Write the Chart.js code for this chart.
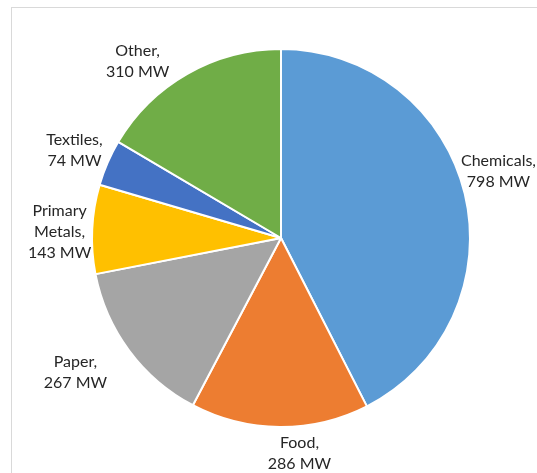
<!DOCTYPE html>
<html>
<head>
<meta charset="utf-8">
<script src="https://cdn.jsdelivr.net/npm/chart.js@4"></script>
<style>
  html, body { margin: 0; padding: 0; background: #fff; }
  #wrap { position: relative; width: 537px; height: 473px; }
  #frame { position: absolute; left: 11px; top: 7px; width: 600px; height: 600px; border: 1px solid #d9d9d9; box-sizing: border-box; }
</style>
</head>
<body>
<div id="wrap">
  <div id="frame"></div>
  <canvas id="chart" width="537" height="473" style="position:absolute;left:0;top:0"></canvas>
</div>
<script>
const categories = ['Chemicals', 'Food', 'Paper', 'Primary Metals', 'Textiles', 'Other'];
const megawatts = [798, 286, 267, 143, 74, 310];
const colors = ['#5b9bd5', '#ed7d31', '#a5a5a5', '#ffc000', '#4472c4', '#70ad47'];

const ctx = document.getElementById('chart').getContext('2d');

// Excel style "Name, value MW" labels outside the slices
const outsideLabels = {
  id: 'outsideLabels',
  afterDraw(chart, args, opts) {
    const c = chart.ctx;
    const meta = chart.getDatasetMeta(0);
    const lineH = 21;
    c.save();
    c.font = '16px Lato';
    c.fillStyle = '#262626';
    c.textAlign = 'center';
    c.textBaseline = 'middle';
    meta.data.forEach((arc, i) => {
      const name = categories[i];
      let lines;
      if (name === 'Primary Metals') lines = ['Primary', 'Metals,', megawatts[i] + ' MW'];
      else lines = [name + ',', megawatts[i] + ' MW'];
      const w = Math.max(...lines.map(l => c.measureText(l).width));
      const h = lines.length * lineH;
      const mid = (arc.startAngle + arc.endAngle) / 2;
      const dx = Math.cos(mid), dy = Math.sin(mid);
      const r = arc.outerRadius + 8;
      let cx = arc.x + dx * r + dx * w / 2;
      let cy = arc.y + dy * r + dy * h / 2;
      cx = Math.min(cx, chart.width - w / 2 - 1);
      // best-fit nudges like Excel does
      const nudge = opts.nudge[name] || [0, 0];
      cx += nudge[0];
      cy += nudge[1];
      lines.forEach((l, j) => {
        c.fillText(l, cx, cy - h / 2 + lineH / 2 + j * lineH);
      });
    });
    c.restore();
  }
};

new Chart(ctx, {
  type: 'pie',
  data: {
    labels: categories,
    datasets: [{
      data: megawatts,
      backgroundColor: colors,
      borderColor: '#ffffff',
      borderWidth: 2
    }]
  },
  options: {
    responsive: false,
    animation: false,
    layout: { padding: { left: 91, right: 66, top: 48, bottom: 45 } },
    plugins: {
      legend: { display: false },
      tooltip: { enabled: false },
      outsideLabels: {
        nudge: {
          'Chemicals': [0, -16],
          'Food': [20, -3],
          'Paper': [-22, 4],
          'Primary Metals': [7, 5],
          'Textiles': [0, -1],
          'Other': [-30, 13]
        }
      }
    }
  },
  plugins: [outsideLabels]
});
</script>
</body>
</html>
